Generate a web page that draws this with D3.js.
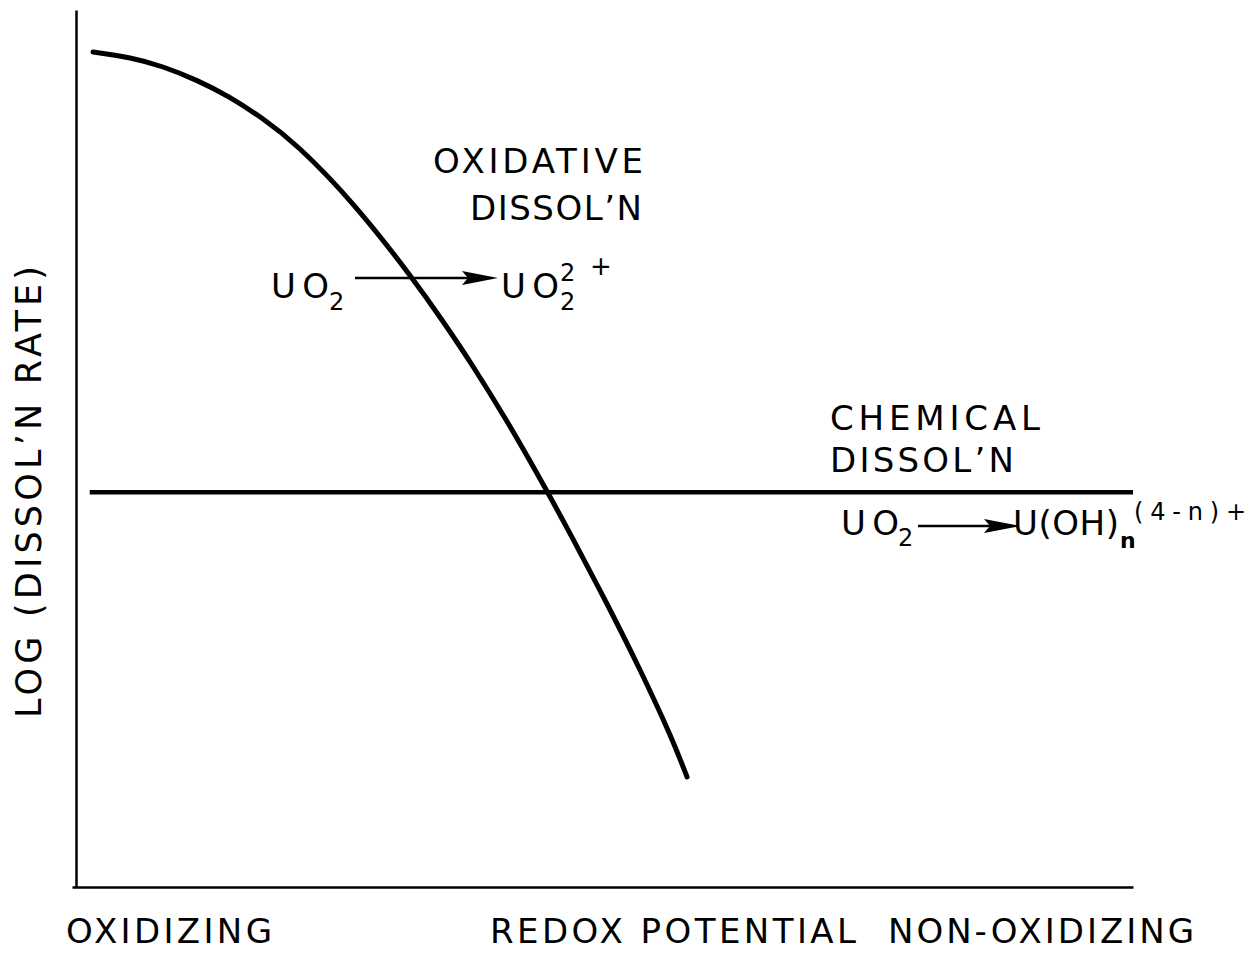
<!DOCTYPE html>
<html><head><meta charset="utf-8">
<script src="https://cdn.jsdelivr.net/npm/d3@7"></script>
<style>body{margin:0;background:#fff}</style></head>
<body><svg id="c" width="1258" height="953"></svg>
<script>
// Oxidative dissolution curve (x: redox potential, y: log rate, arbitrary 0-100 units)
const oxidX = [1.61, 5.11, 8.23, 11.45, 14.57, 17.69, 21.19, 26.40, 31.60, 34.72, 37.56, 40.78, 42.95, 44.65, 47.02, 50.24, 53.36, 56.20, 57.81];
const oxidY = [95.21, 94.53, 93.50, 91.95, 90.01, 87.57, 84.15, 77.59, 69.73, 64.48, 59.35, 53.08, 48.57, 44.92, 39.67, 32.27, 24.74, 17.33, 12.54];
// Chemical dissolution: constant level
const chemX = [1.3, 100];
const chemY = [45.0, 45.0];
const xLabels = ["OXIDIZING", "REDOX POTENTIAL", "NON-OXIDIZING"];
const yLabel = "LOG (DISSOL\u2019N RATE)";

const svg = d3.select("#c");
const FONT = "DejaVu Sans";
const x = d3.scaleLinear().domain([0, 100]).range([76, 1133]);
const y = d3.scaleLinear().domain([0, 100]).range([887, 10]);

// axes (no ticks)
const ya = svg.append("g").attr("transform", `translate(${x(0)},0)`)
  .call(d3.axisLeft(y).ticks(0).tickSizeOuter(0));
ya.select(".domain").attr("stroke", "#000").attr("stroke-width", 2.5);
const xa = svg.append("g").attr("transform", `translate(0,${y(0)})`)
  .call(d3.axisBottom(x.copy().range([72, 1133])).ticks(0).tickSizeOuter(0));
xa.select(".domain").attr("stroke", "#000").attr("stroke-width", 2.5);

const line = d3.line().x(d => x(d[0])).y(d => y(d[1])).curve(d3.curveNatural);
svg.append("path").datum(oxidX.map((v, i) => [v, oxidY[i]]))
  .attr("d", line).attr("fill", "none").attr("stroke", "#000")
  .attr("stroke-width", 5).attr("stroke-linecap", "round");
svg.append("path").datum(chemX.map((v, i) => [v, chemY[i]]))
  .attr("d", d3.line().x(d => x(d[0])).y(d => y(d[1])))
  .attr("fill", "none").attr("stroke", "#000").attr("stroke-width", 4.5);

function txt(s, px, py, size, len, opts = {}) {
  const t = svg.append("text").attr("x", px).attr("y", py)
    .attr("font-family", FONT).attr("font-size", size).attr("fill", "#000")
    .text(s);
  if (len) t.attr("textLength", len).attr("lengthAdjust", "spacing");
  if (opts.weight) t.attr("font-weight", opts.weight);
  if (opts.transform) t.attr("transform", opts.transform);
  if (opts.anchor) t.attr("text-anchor", opts.anchor);
  return t;
}
function arrow(x1, x2, yy) {
  svg.append("line").attr("x1", x1).attr("x2", x2 - 30).attr("y1", yy).attr("y2", yy)
    .attr("stroke", "#000").attr("stroke-width", 2.5);
  svg.append("path").attr("d", `M${x2},${yy} L${x2 - 36},${yy - 7} L${x2 - 30},${yy} L${x2 - 36},${yy + 7} Z`)
    .attr("fill", "#000");
}

// Oxidative labels
txt("OXIDATIVE", 433, 173, 34, 210);
txt("DISSOL\u2019N", 470, 220, 34, 172);
txt("UO", 271, 298, 34, 58);
txt("2", 329, 310, 24);
arrow(355, 498, 278);
txt("UO", 501, 298, 34, 58);
txt("2", 560, 310, 24);
txt("2", 560, 281, 24);
txt("+", 590, 275, 26);

// Chemical labels
txt("CHEMICAL", 830, 430, 34, 210);
txt("DISSOL\u2019N", 830, 472, 34, 184);
txt("UO", 841, 535, 34, 58);
txt("2", 898, 546, 24);
arrow(918, 1020, 526);
txt("U(OH)", 1013, 535, 34, 106);
txt("n", 1120, 548, 22, null, { weight: "bold" });
txt("(4-n)+", 1134, 520, 24, 112);

// Axis titles
txt(xLabels[0], 66, 943, 34, 206);
txt(xLabels[1], 490, 943, 34, 366);
txt(xLabels[2], 888, 943, 34, 306);
txt(yLabel, 0, 0, 35, 452, { transform: "translate(41,718) rotate(-90)" });
</script></body></html>
